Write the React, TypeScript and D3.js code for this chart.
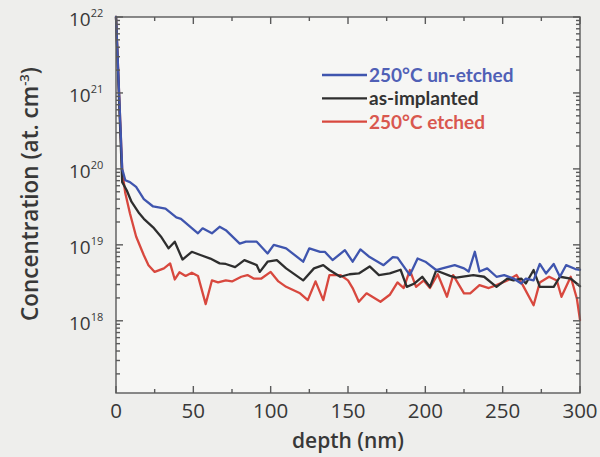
import React from 'react';
import * as d3 from 'd3';

// Depth profiles (depth in nm, concentration in at. cm^-3)
const unEtchedDepth = [0, 4, 6, 9, 13, 18, 24, 32, 39, 42, 53, 56, 62, 67, 71, 80, 84, 91, 98, 102, 110, 121, 125, 132, 135, 140, 148, 153, 158, 164, 173, 179, 182, 190, 195, 200, 207, 211, 219, 225, 228, 232, 235, 240, 246, 251, 257, 262, 265, 270, 274, 278, 283, 287, 291, 297, 300];
const unEtchedConc = [1e22, 1.0e20, 7.1e19, 6.7e19, 5.8e19, 4.0e19, 3.2e19, 3.0e19, 2.3e19, 2.2e19, 1.42e19, 1.65e19, 1.42e19, 1.73e19, 1.56e19, 1.04e19, 1.1e19, 1.1e19, 7.7e18, 1.0e19, 9.0e18, 6.0e18, 9.0e18, 8.1e18, 8.1e18, 6.3e18, 8.5e18, 6.0e18, 8.7e18, 6.9e18, 5.4e18, 6.9e18, 6.8e18, 4.0e18, 6.6e18, 6.0e18, 4.66e18, 4.9e18, 5.4e18, 4.9e18, 4.45e18, 8.1e18, 4.45e18, 4.9e18, 3.8e18, 4.0e18, 3.6e18, 3.1e18, 3.6e18, 3.4e18, 5.6e18, 4.2e18, 5.6e18, 3.8e18, 5.4e18, 4.8e18, 4.7e18];

const asImplantedDepth = [0, 4, 7, 10, 15, 18, 24, 29, 34, 38, 43, 49, 55, 61, 67, 71, 77, 83, 91, 93, 98, 104, 110, 121, 128, 134, 138, 145, 151, 157, 164, 170, 177, 184, 188, 193, 198, 203, 207, 216, 220, 231, 238, 246, 253, 257, 262, 265, 270, 274, 283, 287, 294, 300];
const asImplantedConc = [1e22, 6.7e19, 5.2e19, 3.7e19, 2.6e19, 2.2e19, 1.7e19, 1.29e19, 9.0e18, 1.1e19, 6.4e18, 8.1e18, 7.3e18, 6.6e18, 5.7e18, 5.6e18, 5.1e18, 6.3e18, 5.4e18, 4.4e18, 6.0e18, 6.3e18, 4.9e18, 3.4e18, 4.9e18, 5.4e18, 4.66e18, 3.8e18, 4.1e18, 4.2e18, 5.2e18, 4.0e18, 4.2e18, 4.7e18, 2.8e18, 3.1e18, 3.8e18, 2.8e18, 4.6e18, 3.9e18, 3.7e18, 4.0e18, 3.8e18, 2.8e18, 3.6e18, 3.4e18, 3.6e18, 3.1e18, 4.66e18, 2.8e18, 2.8e18, 3.8e18, 3.6e18, 2.85e18];

const etchedDepth = [0, 4, 6, 9, 13, 18, 21, 25, 31, 35, 38, 41, 45, 49, 53, 58, 62, 66, 71, 75, 81, 85, 89, 94, 100, 105, 110, 119, 124, 129, 134, 138, 145, 150, 153, 157, 162, 171, 177, 182, 186, 190, 194, 199, 203, 208, 214, 218, 225, 229, 235, 241, 246, 253, 259, 263, 270, 274, 280, 285, 288, 294, 298, 300];
const etchedConc = [1e22, 9.6e19, 4.8e19, 2.6e19, 1.29e19, 7.3e18, 5.4e18, 4.4e18, 4.9e18, 5.7e18, 3.5e18, 4.35e18, 3.9e18, 4.3e18, 3.9e18, 1.66e18, 3.4e18, 3.2e18, 3.4e18, 3.3e18, 3.8e18, 4.0e18, 3.6e18, 3.6e18, 4.4e18, 3.3e18, 2.8e18, 2.3e18, 1.87e18, 3.3e18, 1.87e18, 4.0e18, 4.0e18, 3.4e18, 2.7e18, 1.78e18, 2.3e18, 1.78e18, 2.2e18, 3.2e18, 2.7e18, 4.66e18, 2.8e18, 3.4e18, 2.7e18, 4.1e18, 2.07e18, 4.0e18, 2.3e18, 2.3e18, 2.95e18, 2.7e18, 2.95e18, 3.4e18, 4.0e18, 2.95e18, 1.6e18, 3.2e18, 3.8e18, 3.4e18, 2.07e18, 3.8e18, 1.95e18, 1.02e18];

const seriesNames = ['250°C un-etched', 'as-implanted', '250°C etched'];
const xTickValues = [0, 50, 100, 150, 200, 250, 300];
const xMinorValues = [25, 75, 125, 175, 225, 275];
const yDecades = [18, 19, 20, 21, 22];

const W = 600;
const H = 457;
const left = 116;
const right = 580;
const top = 17;
const bottom = 393;

const FONT = "'Open Sans', 'Noto Sans', sans-serif";
const LEGEND_FONT = "Lato, 'Open Sans', sans-serif";
const AXIS = '#5a5a5a';
const TEXT = '#383838';

export default function App() {
  const x = d3.scaleLinear().domain([0, 300]).range([left, right]);
  const y = d3.scaleLog().domain([1.12e17, 1e22]).range([bottom, top]);
  const line = d3
    .line<[number, number]>()
    .x((d) => x(d[0]))
    .y((d) => y(d[1]));

  const zip = (a: number[], b: number[]) => a.map((v, i) => [v, b[i]] as [number, number]);
  const series = [
    { name: seriesNames[2], color: '#d8483e', text: '#d9584f', pts: zip(etchedDepth, etchedConc) },
    { name: seriesNames[1], color: '#2e2e2e', text: '#333333', pts: zip(asImplantedDepth, asImplantedConc) },
    { name: seriesNames[0], color: '#3f55ae', text: '#5060b6', pts: zip(unEtchedDepth, unEtchedConc) },
  ];
  const legend = [series[2], series[1], series[0]];

  // minor log ticks
  const yMinor: number[] = [];
  for (let e = 17; e < 22; e++) {
    for (let m = 2; m <= 9; m++) {
      const v = m * Math.pow(10, e);
      if (v >= y.domain()[0] && v < 1e22) yMinor.push(v);
    }
  }

  return (
    <svg
      width={W}
      height={H}
      style={{ position: 'absolute', left: 0, top: 0, fontFamily: FONT }}
    >
      <rect x={0} y={0} width={W} height={H} fill="#eeeeec" />
      <rect x={left} y={top} width={right - left} height={bottom - top} fill="#f6f6f4" />

      {/* data */}
      <g fill="none" strokeWidth={2.3} strokeLinejoin="round" strokeLinecap="round">
        {series.map((s) => (
          <path key={s.name} d={line(s.pts) || ''} stroke={s.color} />
        ))}
      </g>

      {/* frame and ticks */}
      <g stroke={AXIS} strokeWidth={1.4}>
        <rect x={left} y={top} width={right - left} height={bottom - top} fill="none" />
        {xTickValues.map((t) => (
          <g key={'xt' + t}>
            <line x1={x(t)} x2={x(t)} y1={bottom} y2={bottom - 7} />
            <line x1={x(t)} x2={x(t)} y1={top} y2={top + 7} />
          </g>
        ))}
        {xMinorValues.map((t) => (
          <g key={'xm' + t}>
            <line x1={x(t)} x2={x(t)} y1={bottom} y2={bottom - 4} />
            <line x1={x(t)} x2={x(t)} y1={top} y2={top + 4} />
          </g>
        ))}
        {yDecades.map((e) => (
          <g key={'yt' + e}>
            <line x1={left} x2={left + 7} y1={y(Math.pow(10, e))} y2={y(Math.pow(10, e))} />
            <line x1={right} x2={right - 7} y1={y(Math.pow(10, e))} y2={y(Math.pow(10, e))} />
          </g>
        ))}
        {yMinor.map((v, i) => (
          <g key={'ym' + i}>
            <line x1={left} x2={left + 4} y1={y(v)} y2={y(v)} />
            <line x1={right} x2={right - 4} y1={y(v)} y2={y(v)} />
          </g>
        ))}
      </g>

      {/* x tick labels */}
      {xTickValues.map((t) => (
        <text key={'xl' + t} x={x(t)} y={418} textAnchor="middle" fontSize={20.5} fontWeight={500} fill={TEXT}>
          {t}
        </text>
      ))}
      <text x={(left + right) / 2} y={448} textAnchor="middle" fontSize={21} fontWeight={600} fill={TEXT}>
        depth (nm)
      </text>

      {/* y tick labels */}
      {yDecades.map((e) => (
        <text key={'yl' + e} x={69} y={y(Math.pow(10, e)) + 9} fontSize={19} fontWeight={500} fill={TEXT}>
          10
          <tspan dy={-9} fontSize={11}>
            {e}
          </tspan>
        </text>
      ))}
      <text
        transform={`translate(38,194) rotate(-90)`}
        textAnchor="middle"
        fontSize={22.5}
        fontWeight={600}
        fill={TEXT}
      >
        Concentration (at. cm
        <tspan dy={-9} fontSize={13}>
          -3
        </tspan>
        <tspan dy={9}>)</tspan>
      </text>

      {/* legend */}
      {legend.map((s, i) => {
        const ly = 75 + i * 23.3;
        return (
          <g key={'lg' + i}>
            <line x1={322} x2={367} y1={ly} y2={ly} stroke={s.color} strokeWidth={2.3} />
            <text
              x={369}
              y={ly + 7}
              fontSize={19}
              fontWeight={700}
              fontFamily={LEGEND_FONT}
              fill={s.text}
            >
              {s.name}
            </text>
          </g>
        );
      })}
    </svg>
  );
}
